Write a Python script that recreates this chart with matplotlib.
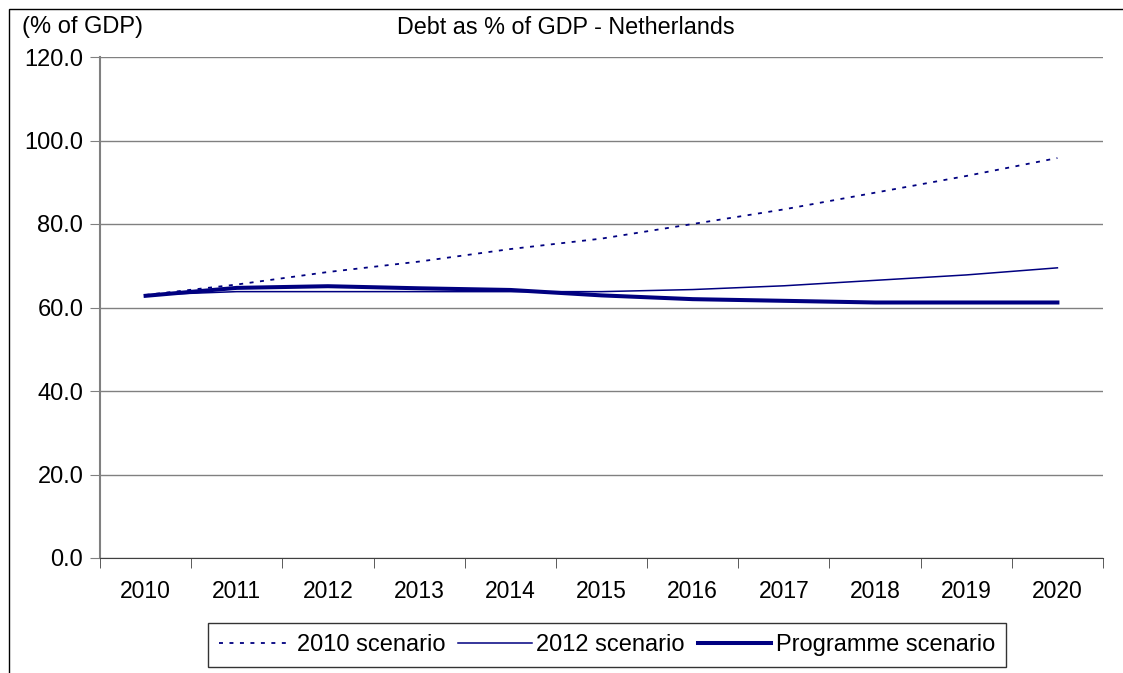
import numpy as np
import matplotlib.pyplot as plt
from matplotlib.patches import Rectangle

years = ["2010", "2011", "2012", "2013", "2014", "2015", "2016", "2017", "2018", "2019", "2020"]
scen_2010 = [63.0, 65.5, 68.5, 71.0, 74.0, 76.5, 80.0, 83.5, 87.5, 91.5, 95.8]
scen_2012 = [63.0, 63.8, 63.8, 63.8, 63.8, 63.8, 64.3, 65.2, 66.5, 67.8, 69.5]
scen_prog = [62.8, 64.7, 65.1, 64.6, 64.2, 62.9, 62.0, 61.6, 61.2, 61.2, 61.2]
yticks = [0, 20, 40, 60, 80, 100, 120]

plt.rcParams['font.family'] = ['Liberation Sans', 'DejaVu Sans']
navy = "#000080"
fs = 16.5

fig = plt.figure(figsize=(11.23, 6.73), dpi=100)
ax = fig.add_axes([100/1123, 1-558/673, 1003/1123, 501/673])

x = np.arange(len(years))
ax.plot(x, scen_2010, color=navy, lw=1.3, linestyle=(0, (2.2, 3.6)), label="2010 scenario")
ax.plot(x, scen_2012, color=navy, lw=1.1, label="2012 scenario")
ax.plot(x, scen_prog, color=navy, lw=2.9, label="Programme scenario")

ax.set_xlim(-0.5, len(years)-0.5)
ax.set_ylim(0, 120)
ax.set_yticks(yticks)
ax.set_yticklabels(["%.1f" % v for v in yticks], fontsize=17)
ax.set_xticks(x)
ax.set_xticklabels(years, fontsize=fs)
ax.tick_params(axis='x', which='major', length=0, pad=16)
ax.set_xticks(np.arange(len(years)+1)-0.5, minor=True)
ax.tick_params(axis='x', which='minor', length=7, direction='out', color='#404040')
ax.tick_params(axis='y', length=7, direction='out', color='#808080', pad=5)

ax.grid(axis='y', color='#808080', lw=1.0)
ax.set_axisbelow(True)
ax.spines['top'].set_visible(False)
ax.spines['right'].set_visible(False)
ax.spines['left'].set_color('#808080')
ax.spines['left'].set_linewidth(1.5)
ax.spines['bottom'].set_color('#404040')

fig.text(22/1123, 1-27/673, "(% of GDP)", fontsize=17, va='center', ha='left')
fig.text(566/1123, 1-27/673, "Debt as % of GDP - Netherlands", fontsize=16.8, va='center', ha='center')

leg = ax.legend(loc='center', bbox_to_anchor=(607/1123, 1-645/673), bbox_transform=fig.transFigure,
                ncol=3, fontsize=17, frameon=True, fancybox=False, handlelength=3.1,
                handletextpad=0.2, columnspacing=0.55, borderpad=0.45, borderaxespad=0)
leg.get_frame().set_edgecolor('black')
leg.get_frame().set_linewidth(1.0)

fig.patches.append(Rectangle((9/1123, -0.1), 1.2, 1.1 - 9/673, transform=fig.transFigure,
                             fill=False, edgecolor='black', lw=1.0))

fig.savefig("out.png", dpi=100)
